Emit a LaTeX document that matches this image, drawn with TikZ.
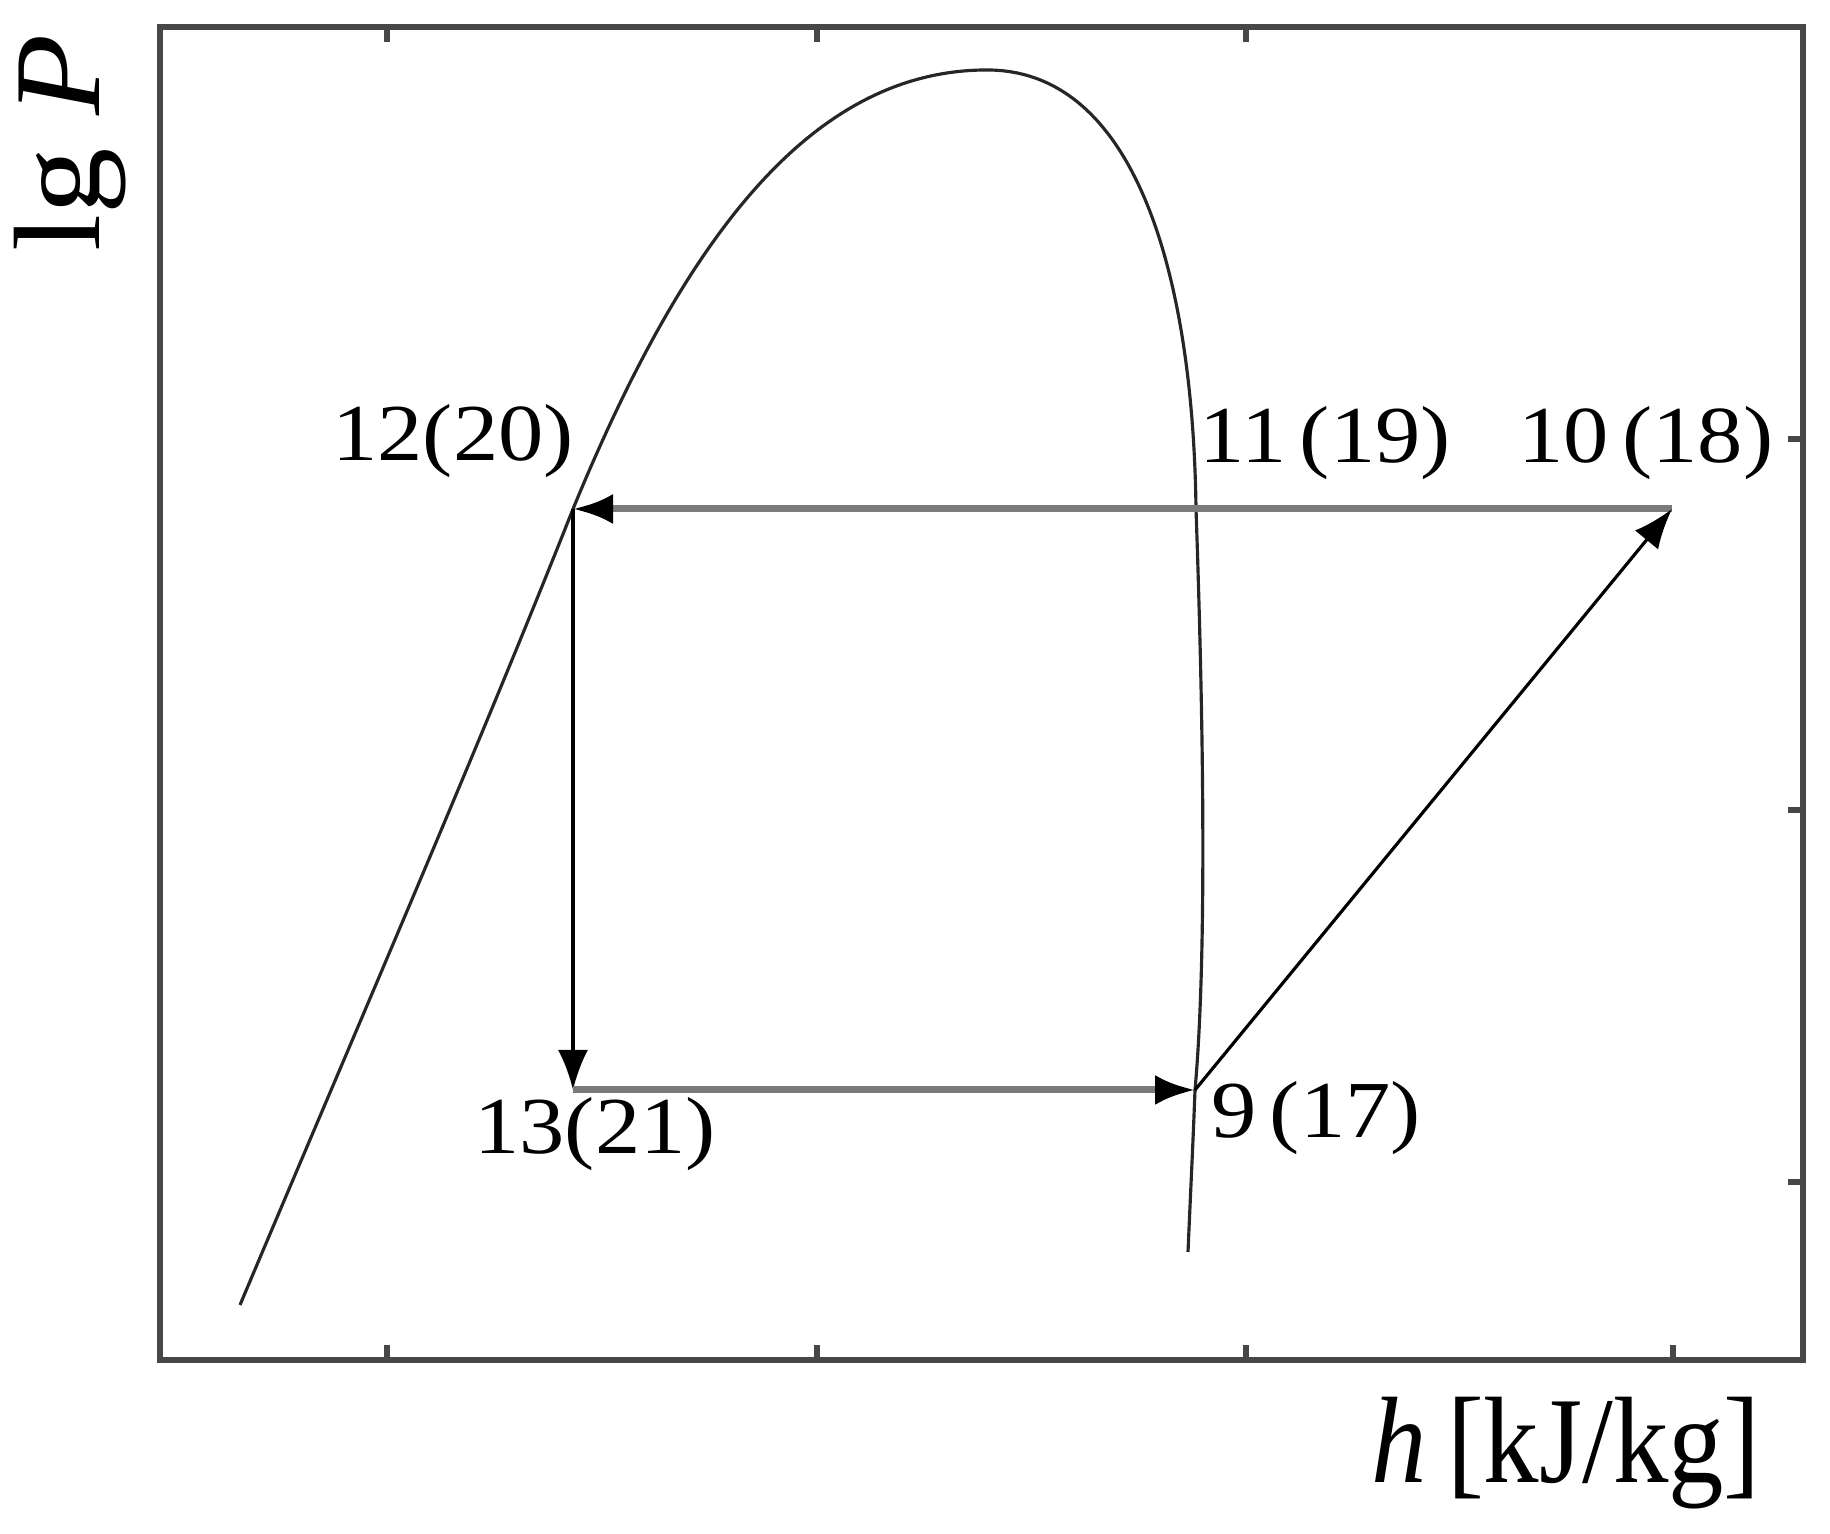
\documentclass[tikz,border=0pt]{standalone}
\usepackage{fontspec}
\setmainfont{Liberation Serif}
\newfontfamily\lblfont[FakeStretch=1.12]{Liberation Serif}
\newfontfamily\axfont[FakeStretch=0.9]{Liberation Serif}
\newfontfamily\ayfont[FakeStretch=1.08]{Liberation Serif}
\usepackage{tikz}
\usetikzlibrary{arrows.meta}
\tikzset{>={Latex[length=4mm, width=3mm, color=black]}}
\definecolor{framegray}{HTML}{474747}
\definecolor{linegray}{HTML}{7A7A7A}

\begin{document}
\begin{tikzpicture}
    \tikzset{frame/.style = {framegray, line width=1.6pt},
             sat/.style = {black!85, line width=0.9pt},
             flow/.style = {->, black, line width=0.9pt},
             heavy/.style = {->, linegray, line width=2pt},
             lbl/.style = {font=\lblfont\fontsize{23}{27}\selectfont, inner sep=0pt},
             axis/.style = {font=\axfont\fontsize{35}{40}\selectfont, inner sep=0pt}}
    \useasboundingbox (0, 0) rectangle (18.30, 15.34);
    % frame and ticks
    \draw[frame] (1.60, 1.74) rectangle (18.03, 15.07);
    \foreach \x in {3.87, 8.17, 12.46, 16.73} {
        \draw[frame] (\x, 1.74) -- (\x, 1.89);
    }
    \foreach \x in {3.87, 8.17, 12.46} {
        \draw[frame] (\x, 15.07) -- (\x, 14.92);
    }
    \foreach \y in {3.52, 7.24, 10.95} {
        \draw[frame] (18.03, \y) -- (17.88, \y);
    }
    % cycle points
    \coordinate (p12) at (5.73, 10.25);
    \coordinate (p10) at (16.72, 10.25);
    \coordinate (p13) at (5.73, 4.44);
    \coordinate (p9) at (11.95, 4.44);
    \coordinate (p11) at (11.96, 10.25);
    \coordinate (top) at (9.87, 14.64);
    % saturation dome
    \draw[sat] (2.40, 2.29) .. controls (3.50, 4.90) and (4.80, 7.90) .. (p12)
        .. controls (6.84, 12.95) and (8.11, 14.64) .. (top)
        .. controls (11.35, 14.64) and (11.93, 12.60) .. (p11)
        .. controls (12.01, 8.80) and (12.09, 6.00) .. (p9)
        .. controls (11.93, 3.90) and (11.90, 3.30) .. (11.88, 2.82);
    % cycle
    \draw[heavy] (p10) -- (p12);
    \draw[flow] (p12) -- (p13);
    \draw[heavy] (p13) -- (p9);
    \draw[flow] (p9) -- (p10);
    \node[lbl] (l12) at (4.53, 10.93) {12(20)};
    \node[lbl] (l11) at (13.25, 10.91) {11\,(19)};
    \node[lbl] (l10) at (16.46, 10.91) {10\,(18)};
    \node[lbl] (l13) at (5.95, 4.00) {13(21)};
    \node[lbl] (l9) at (13.16, 4.16) {9\,(17)};
    % axis labels
    \node[axis] (xlab) at (15.66, 0.81) {\textit{h}\,[kJ/kg]};
    \node[axis, font=\ayfont\fontsize{35}{40}\selectfont, rotate=90] (ylab) at (0.70, 13.91) {lg \textit{P}};
\end{tikzpicture}
\end{document}
